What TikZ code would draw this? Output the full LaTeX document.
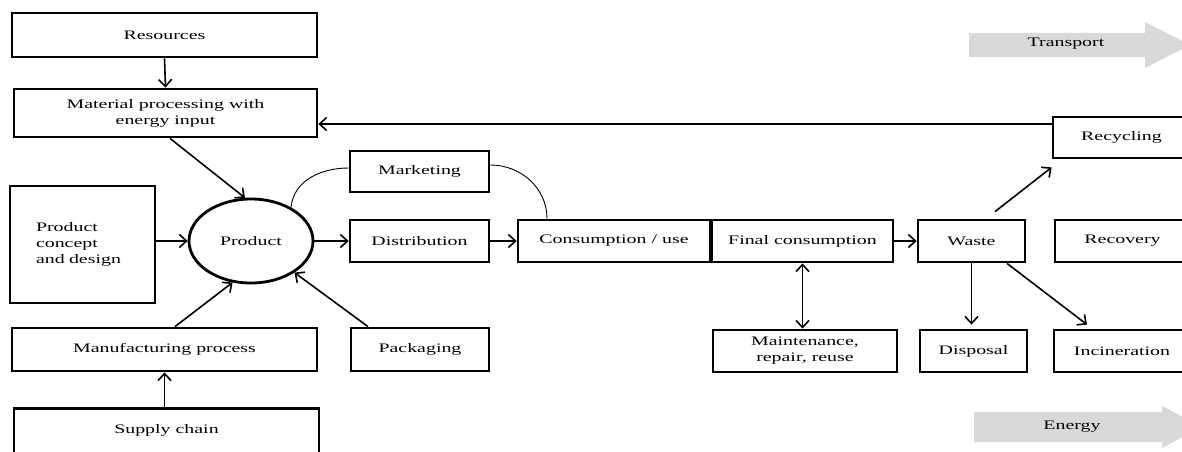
\documentclass[tikz,border=0pt]{standalone}
\usepackage{fontspec}
\setmainfont{Liberation Serif}[FakeStretch=1.53]
\usetikzlibrary{arrows.meta,shapes.geometric}
\tikzset{
  box/.style={draw, line width=2.8pt, minimum height=42pt, inner sep=3pt, align=center, font=\fontsize{13}{16}\selectfont},
  arr/.style={line width=1.6pt, -{Straight Barb[length=7pt,width=13pt]}},
  twoarr/.style={line width=1.6pt, {Straight Barb[length=7pt,width=13pt]}-{Straight Barb[length=7pt,width=13pt]}},
  arcline/.style={line width=0.9pt},
  flow/.style={fill=black!15},
  flowtext/.style={font=\fontsize{13}{16}\selectfont}
}
\begin{document}
\begin{tikzpicture}[x=1pt, y=1pt]
  \useasboundingbox (0,0) rectangle (1182,451);
  % linke Spalte
  \node[box, minimum width=305pt, minimum height=44pt] (res) at (164.5,416) {Resources};
  \node[box, minimum width=303pt, minimum height=48pt] (mat) at (165.5,338) {Material processing with\\energy input};
  \node[box, minimum width=145pt, minimum height=117pt, text width=93pt, inner xsep=26pt, align=left] (concept) at (82.5,206.5) {Product\\concept\\and design};
  \node[box, minimum width=305pt, minimum height=43pt] (manu) at (164.5,101.5) {Manufacturing process};
  \node[box, anchor=north, minimum width=305pt, text height=16pt, text depth=40pt, inner ysep=9pt] (supply) at (166.5,44) {Supply chain};
  % Produkt
  \node[box, ellipse, minimum width=124pt, minimum height=84pt, inner sep=0pt] (prod) at (251,210) {Product};
  % mittlere Kette
  \node[box, minimum width=139pt, minimum height=41pt] (mark) at (419.5,279.5) {Marketing};
  \node[box, minimum width=139pt] (dist) at (419.5,210) {Distribution};
  \node[box, minimum width=138pt, minimum height=43pt] (pack) at (420,101.5) {Packaging};
  \node[box, minimum width=192pt] (cons) at (614,210) {Consumption / use};
  \node[box, minimum width=181pt] (final) at (802.5,210) {Final consumption};
  \node[box, minimum width=184pt] (maint) at (805,100) {Maintenance,\\repair, reuse};
  % rechte Seite
  \node[box, minimum width=107pt] (waste) at (971.5,210) {Waste};
  \node[box, minimum width=107pt] (disp) at (973.5,100) {Disposal};
  \node[box, minimum width=135pt] (recov) at (1122.5,210) {Recovery};
  \node[box, minimum width=137pt, minimum height=41pt] (recyc) at (1121.5,313.5) {Recycling};
  \node[box, minimum width=136pt] (incin) at (1122,100) {Incineration};
  % graue Pfeile
  \fill[flow] (969,418) -- (1145,418) -- (1145,429) -- (1190,406) -- (1145,383) -- (1145,394) -- (969,394) -- cycle;
  \node[flowtext] (transport) at (1066,407) {Transport};
  \fill[flow] (974,39) -- (1162,39) -- (1162,45) -- (1202,24) -- (1162,3) -- (1162,9) -- (974,9) -- cycle;
  \node[flowtext] (energy) at (1072,24) {Energy};
  % Verbindungen
  \draw[arr] (res.south) -- (mat.north);
  \draw[arr] ([xshift=4.5pt]mat.south) -- (prod.98);
  \draw[arr] (concept.east |- prod) -- (prod.west);
  \draw[arr] ([xshift=10.5pt]manu.north) -- (prod.246);
  \draw[arr] ([xshift=-52pt]pack.north) -- (prod.324);
  \draw[arr] (manu.south |- supply.north) -- (manu.south);
  \draw[arr] (prod.east) -- (dist.west);
  \draw[arr] (dist.east) -- (cons.west);
  \draw[arr] (final.east) -- (waste.west);
  \draw[twoarr] (final.south) -- (final.south |- maint.north);
  \draw[arr] (waste.south) -- ([yshift=4pt]waste.south |- disp.north);
  \draw[arr] ([xshift=35.5pt]waste.south) -- ([xshift=-35pt,yshift=4pt]incin.north);
  \draw[arr] ([xshift=23.5pt,yshift=7pt]waste.north) -- ([yshift=-8pt]recyc.south west);
  \coordinate (rin) at ([yshift=13.5pt]recyc.west);
  \draw[arr] (rin) -- (rin -| mat.east);
  % Marketing-Bogen
  \draw[arcline] (prod.40) to[out=85, in=180] ([yshift=3.5pt]mark.west);
  \draw[arcline] ([yshift=6.5pt]mark.east) to[out=0, in=90] ([xshift=-67pt]cons.north);
\end{tikzpicture}
\end{document}
